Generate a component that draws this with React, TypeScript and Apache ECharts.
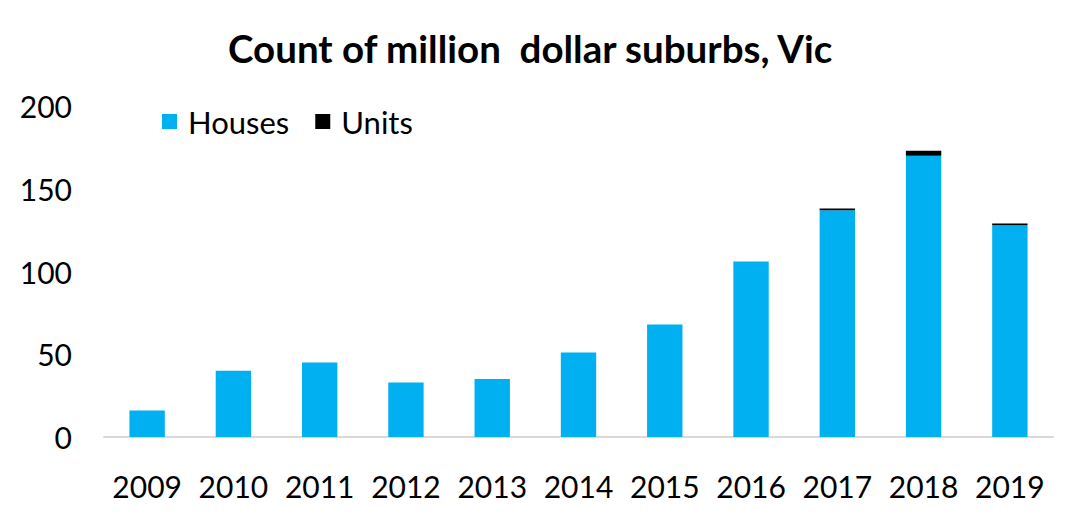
import React, { useEffect, useRef } from "react";
import * as echarts from "echarts";

const years = ["2009", "2010", "2011", "2012", "2013", "2014", "2015", "2016", "2017", "2018", "2019"];
const houses = [16, 40, 45, 33, 35, 51, 68, 106, 137, 170, 128];
const units = [0, 0, 0, 0, 0, 0, 0, 0, 1, 3, 1];

const FONT = "Lato, 'Open Sans', sans-serif";

export default function App() {
  const ref = useRef<HTMLDivElement>(null);
  useEffect(() => {
    if (!ref.current) return;
    const chart = echarts.init(ref.current, null, { renderer: "svg" });
    chart.setOption({
      animation: false,
      backgroundColor: "#ffffff",
      title: {
        text: "Count of million  dollar suburbs, Vic",
        left: 223,
        top: 23,
        textStyle: { fontFamily: FONT, fontSize: 38.5, fontWeight: "bold", color: "#000000" },
      },
      legend: {
        left: 157,
        top: 101,
        itemWidth: 15,
        itemHeight: 15,
        itemGap: 26,
        icon: "rect",
        textStyle: { fontFamily: FONT, fontSize: 31, color: "#000000", padding: [0, 0, 0, 6] },
        data: ["Houses", "Units"],
      },
      grid: { left: 104, right: 27, top: 106, bottom: 81 },
      xAxis: {
        type: "category",
        data: years,
        axisLine: { lineStyle: { color: "#d9d9d9", width: 2 } },
        axisTick: { show: false },
        axisLabel: { interval: 0, fontFamily: FONT, fontSize: 30, color: "#000000", margin: 34 },
      },
      yAxis: {
        type: "value",
        min: 0,
        max: 200,
        interval: 50,
        splitLine: { show: false },
        axisLine: { show: false },
        axisTick: { show: false },
        axisLabel: { fontFamily: FONT, fontSize: 30, color: "#000000", margin: 32 },
      },
      series: [
        {
          name: "Houses",
          type: "bar",
          stack: "total",
          data: houses,
          barWidth: "41%",
          itemStyle: { color: "#00b0f0" },
        },
        {
          name: "Units",
          type: "bar",
          stack: "total",
          data: units,
          barWidth: "41%",
          itemStyle: { color: "#000000" },
        },
      ],
    });
    return () => chart.dispose();
  }, []);
  return <div ref={ref} style={{ width: 1080, height: 518, position: "absolute", left: 0, top: 0 }} />;
}
